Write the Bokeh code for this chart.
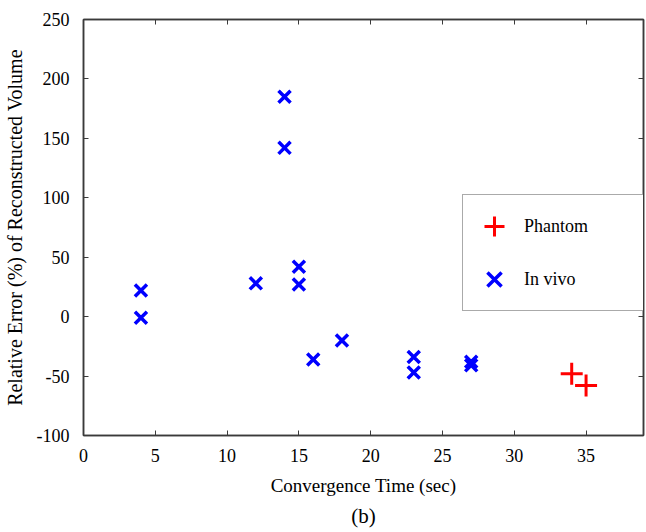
from bokeh.plotting import figure
from bokeh.models import (Range1d, SingleIntervalTicker, LinearAxis, Legend, LegendItem,
                          Title, PrintfTickFormatter, CustomJSTickFormatter)
from bokeh.embed import file_html
from bokeh.resources import INLINE

# Data
phantom_x = [34, 35]
phantom_y = [-48, -58]
invivo_x = [4, 4, 12, 14, 14, 15, 15, 16, 18, 23, 23, 27, 27]
invivo_y = [22, -1, 28, 185, 142, 42, 27, -36, -20, -34, -47, -38, -41]
x_label = "Convergence Time (sec)"
y_label = "Relative Error (%) of Reconstructed Volume"
caption = "(b)"

FONT = "Liberation Serif"
AX = "#3a3a3a"

p = figure(output_backend="svg", toolbar_location=None,
           frame_width=560, frame_height=416,
           min_border_left=72, min_border_top=19, min_border_right=2, min_border_bottom=4,
           x_range=Range1d(0, 39), y_range=Range1d(-100, 250),
           background_fill_color="white", border_fill_color="white")
p.grid.visible = False
p.outline_line_color = AX
p.outline_line_width = 1.5

for ax in (p.xaxis[0], p.yaxis[0]):
    ax.major_label_text_font = FONT
    ax.major_label_text_font_size = "18px"
    ax.major_label_text_color = "black"
    ax.axis_label_text_font = FONT
    ax.axis_label_text_font_style = "normal"
    ax.axis_label_text_color = "black"
    ax.axis_line_color = AX
    ax.axis_line_width = 1.5
    ax.major_tick_in = 5
    ax.major_tick_out = 0
    ax.major_tick_line_color = AX
    ax.minor_tick_line_color = None
    ax.formatter = PrintfTickFormatter(format="%d")

p.xaxis[0].ticker = SingleIntervalTicker(interval=5)
p.yaxis[0].ticker = SingleIntervalTicker(interval=50)
p.xaxis[0].axis_label = x_label
p.yaxis[0].axis_label = y_label
p.xaxis[0].axis_label_text_font_size = "19px"
p.yaxis[0].axis_label_text_font_size = "20px"
p.xaxis[0].major_label_standoff = 9
p.xaxis[0].axis_label_standoff = 10
p.yaxis[0].major_label_standoff = 10
p.yaxis[0].axis_label_standoff = 8

for loc, interval in (("above", 5), ("right", 50)):
    a = LinearAxis(ticker=SingleIntervalTicker(interval=interval))
    a.formatter = CustomJSTickFormatter(code="return ''")
    a.major_label_standoff = 0
    a.major_tick_in = 5
    a.major_tick_out = 0
    a.major_tick_line_color = AX
    a.minor_tick_line_color = None
    a.axis_line_color = AX
    a.axis_line_width = 1.5
    p.add_layout(a, loc)

r1 = p.scatter(phantom_x, phantom_y, marker="cross", size=22, line_width=3,
               line_color="#ff0000")
r2 = p.scatter(invivo_x, invivo_y, marker="x", size=17, line_width=3.5,
               line_color="#0000ff")

legend = Legend(items=[LegendItem(label="Phantom", renderers=[r1]),
                       LegendItem(label="In vivo", renderers=[r2])],
                location=(379, 124))
legend.label_text_font = FONT
legend.label_text_font_size = "18px"
legend.label_text_color = "black"
legend.border_line_color = "#555555"
legend.border_line_width = 1.5
legend.background_fill_color = "white"
legend.background_fill_alpha = 1.0
legend.padding = 6
legend.margin = 0
legend.glyph_width = 50
legend.glyph_height = 50
legend.label_height = 50
legend.label_standoff = 5
legend.label_width = 113
legend.spacing = 3
p.add_layout(legend, "center")

t = Title(text=caption, align="center", text_font=FONT, text_font_size="21px",
          text_font_style="normal", text_color="black", standoff=7, offset=0)
p.add_layout(t, "below")

open("out.html", "w").write(file_html(p, INLINE))
